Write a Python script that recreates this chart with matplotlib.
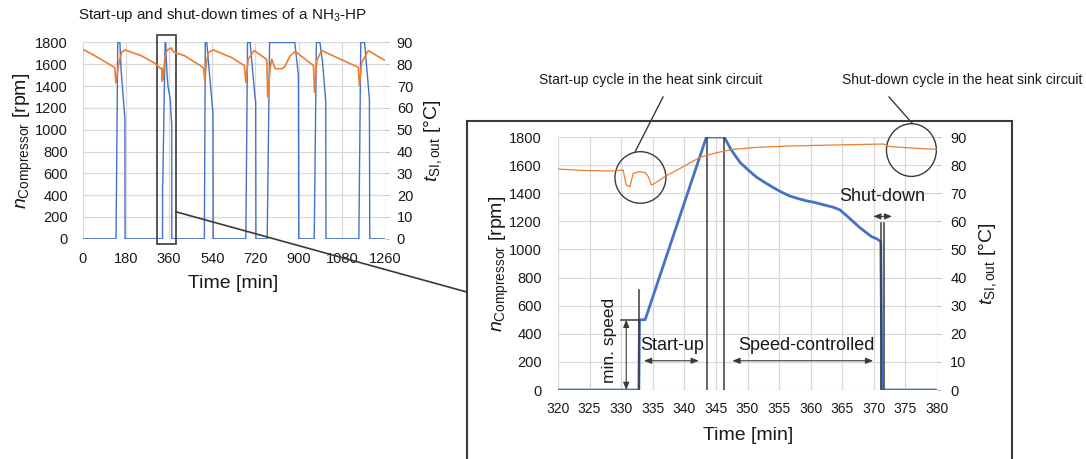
import matplotlib
matplotlib.use('Agg')
import matplotlib.pyplot as plt
from matplotlib.patches import Ellipse, Rectangle, ConnectionPatch
from matplotlib.lines import Line2D

plt.rcParams['font.family'] = ['Liberation Sans', 'DejaVu Sans']
plt.rcParams['mathtext.fontset'] = 'custom'
plt.rcParams['mathtext.rm'] = 'Liberation Sans'
plt.rcParams['mathtext.it'] = 'Liberation Sans:italic'

# ---------------- data ----------------
time_speed = [0, 139, 146, 155, 160, 176, 176.5,
              332.8, 332.9, 333.8, 343.5, 346.3, 347.4, 348.8, 350.0, 351.4, 352.8, 354.1,
              355.5, 356.7, 358.0, 359.4, 360.6, 362.0, 363.6, 364.6, 365.7, 366.8, 367.8,
              368.8, 369.6, 370.5, 371.1, 371.3,
              507, 511, 517, 543, 544,
              680, 687, 698, 718, 721, 722,
              769, 779, 884, 899, 900.5,
              965, 974, 989, 997, 999, 1013, 1014,
              1151, 1159, 1175, 1195, 1196.5, 1260]
speed_rpm = [0, 0, 1800, 1800, 1550, 1100, 0,
             0, 500, 500, 1800, 1800, 1710, 1620, 1570, 1515, 1475, 1440,
             1405, 1380, 1362, 1345, 1335, 1318, 1300, 1282, 1240, 1195, 1155,
             1120, 1092, 1075, 1055, 0,
             0, 1800, 1800, 1150, 0,
             0, 1800, 1800, 1300, 1260, 0,
             0, 1800, 1800, 1500, 0,
             0, 1800, 1800, 1660, 1640, 1260, 0,
             0, 1800, 1800, 1280, 0, 0]

time_temp = [0, 51, 134, 138, 140, 150, 162, 176, 245, 300,
             320, 324, 328.7, 330.3, 330.8, 331.4, 331.9, 333.0, 333.8, 334.3, 334.8, 335.3,
             336.9, 339.8, 342.5, 345.1, 347.7, 351.4, 356.7, 364.6, 371.5, 372.5, 375.2, 379.9,
             425, 503, 509, 515, 523, 544, 621, 674, 680, 690, 715, 767, 771, 781, 788,
             802, 830, 841, 865, 886, 927, 962, 966, 976, 996, 1149, 1153, 1163, 1190,
             1253, 1260]
temp_sink = [86.9, 83.9, 78.5, 71.6, 72.5, 80.0, 85.4, 86.6, 83.9, 80.5,
             78.6, 78.1, 77.9, 78.3, 72.9, 72.3, 77.1, 77.7, 77.3, 75.9, 72.9, 73.5,
             75.9, 79.4, 82.8, 84.4, 85.6, 86.3, 86.8, 87.2, 87.5, 86.6, 86.2, 85.6,
             83.9, 78.5, 72.4, 80.0, 85.4, 86.6, 83.1, 79.4, 71.7, 82.4, 86.3, 82.2, 65.1, 78.0, 82.4,
             78.0, 78.0, 78.7, 84.0, 85.9, 82.4, 79.4, 67.2, 81.8, 86.3, 78.6, 70.2, 80.8, 86.3,
             82.2, 82.0]

overview_xticks = [0, 180, 360, 540, 720, 900, 1080, 1260]
detail_xticks = [320, 325, 330, 335, 340, 345, 350, 355, 360, 365, 370, 375, 380]
rpm_ticks = [0, 200, 400, 600, 800, 1000, 1200, 1400, 1600, 1800]
temp_ticks = [0, 10, 20, 30, 40, 50, 60, 70, 80, 90]

BLUE = '#4472C4'
ORANGE = '#ED7D31'
GRID = '#D9D9D9'
DARK = '#3A3A3A'
TXT = '#1A1A1A'

W, H = 1086, 459
fig = plt.figure(figsize=(W / 100 + 1e-6, H / 100 + 1e-6), dpi=100)


def fx(px):
    return px / W


def fy(py):
    return 1 - py / H


def style_axes(ax, axb, left_pad, bottom_pad, right_pad, xsize=10.5):
    for a in (ax, axb):
        for s in a.spines.values():
            s.set_visible(False)
    ax.grid(True, color=GRID, lw=0.9)
    ax.set_axisbelow(True)
    ax.tick_params(axis='y', length=0, pad=left_pad, labelsize=10.5, labelcolor=TXT)
    ax.tick_params(axis='x', length=0, pad=bottom_pad, labelsize=xsize, labelcolor=TXT)
    axb.tick_params(axis='y', length=3, width=0.8, color='#BFBFBF', direction='out',
                    pad=right_pad, labelsize=10.5, labelcolor=TXT)


# ---------------- overview chart ----------------
ax1 = fig.add_axes([fx(82.7), fy(238.8), fx(385 - 82.7), (238.8 - 42.5) / H])
ax1b = ax1.twinx()
ax1.plot(time_speed, speed_rpm, color=BLUE, lw=1.0)
ax1b.plot(time_temp, temp_sink, color=ORANGE, lw=1.2)
ax1.set_xlim(0, 1260)
ax1.set_ylim(0, 1800)
ax1b.set_ylim(0, 90)
ax1.set_xticks(overview_xticks)
ax1.set_yticks(rpm_ticks)
ax1b.set_yticks(temp_ticks)
style_axes(ax1, ax1b, 10.5, 9.5, 5.5)

fig.text(fx(223), fy(15), 'Start-up and shut-down times of a NH$_3$-HP', fontsize=11,
         ha='center', va='center', color=TXT)
fig.text(fx(23), fy(140.7), r'$n_{\mathrm{Compressor}}$ [rpm]', rotation=90, fontsize=14,
         ha='center', va='center', color=TXT)
fig.text(fx(433), fy(140.7), r'$t_{\mathrm{SI,out}}$ [°C]', rotation=90, fontsize=14,
         ha='center', va='center', color=TXT)
fig.text(fx(233), fy(283), 'Time [min]', fontsize=14, ha='center', va='center', color=TXT)

# selection box and connector
ax1.add_patch(Rectangle((311, -50), 77, 1919, fill=False, ec=DARK, lw=1.2, clip_on=False, zorder=5))
con = ConnectionPatch(xyA=(388, 248), coordsA=ax1.transData,
                      xyB=(fx(466.7), fy(292)), coordsB=fig.transFigure,
                      color=DARK, lw=1.2)
fig.add_artist(con)

# ---------------- detail chart ----------------
# open frame (its bottom edge lies below the picture)
fig.add_artist(Line2D([fx(466.7), fx(466.7), fx(1011.7), fx(1011.7)],
                      [fy(465), fy(121), fy(121), fy(465)],
                      color=DARK, lw=1.5, solid_joinstyle='miter', solid_capstyle='butt'))

ax2 = fig.add_axes([fx(558), fy(390), fx(937 - 558), (390 - 137) / H])
ax2b = ax2.twinx()
ax2b.plot(time_temp, temp_sink, color=ORANGE, lw=0.9, zorder=2)
ax2.plot(time_speed, speed_rpm, color=BLUE, lw=2.0, zorder=3)
ax2.set_xlim(320, 380)
ax2.set_ylim(0, 1800)
ax2b.set_ylim(0, 90)
ax2.set_xticks(detail_xticks)
ax2.set_yticks(rpm_ticks)
ax2b.set_yticks(temp_ticks)
style_axes(ax2, ax2b, 11.5, 8.5, 6.5, xsize=10)

fig.text(fx(499), fy(264), r'$n_{\mathrm{Compressor}}$ [rpm]', rotation=90, fontsize=14,
         ha='center', va='center', color=TXT)
fig.text(fx(988), fy(264), r'$t_{\mathrm{SI,out}}$ [°C]', rotation=90, fontsize=14,
         ha='center', va='center', color=TXT)
fig.text(fx(748), fy(435), 'Time [min]', fontsize=14, ha='center', va='center', color=TXT)

# phase markers
for xv, ytop in [(343.6, 1800), (346.3, 1800), (371.2, 1185), (371.65, 1185), (332.9, 710)]:
    ax2.plot([xv, xv], [0, ytop], color=DARK, lw=1.1, zorder=4)
ax2.plot([329.9, 332.9], [500, 500], color=DARK, lw=1.1, zorder=4)

arrow_kw = dict(arrowstyle='<|-|>,head_length=0.45,head_width=0.18', color=DARK, lw=0.8,
                shrinkA=0, shrinkB=0)
ax2.annotate('', xy=(330.8, 0), xytext=(330.8, 500), arrowprops=arrow_kw)
ax2.annotate('', xy=(333.6, 208), xytext=(342.3, 208), arrowprops=arrow_kw)
ax2.annotate('', xy=(347.6, 208), xytext=(369.9, 208), arrowprops=arrow_kw)
ax2.annotate('', xy=(369.9, 1235), xytext=(372.9, 1235), arrowprops=arrow_kw)

ax2.text(328.2, 350, 'min. speed', rotation=90, fontsize=12.5, ha='center', va='center', color=TXT)
ax2.text(338.1, 320, 'Start-up', fontsize=13, ha='center', va='center', color=TXT)
ax2.text(359.3, 320, 'Speed-controlled', fontsize=13, ha='center', va='center', color=TXT)
ax2.text(371.3, 1376, 'Shut-down', fontsize=13, ha='center', va='center', color=TXT)

# highlight circles
ax2.add_patch(Ellipse((333.05, 1512), 8.07, 367, fill=False, ec=DARK, lw=1.0, clip_on=False, zorder=5))
ax2.add_patch(Ellipse((375.95, 1707), 7.9, 375, fill=False, ec=DARK, lw=1.0, clip_on=False, zorder=5))

fig.add_artist(Line2D([fx(635), fx(663)], [fy(152), fy(97)], color=DARK, lw=1.0))
fig.add_artist(Line2D([fx(912), fx(889)], [fy(123), fy(97)], color=DARK, lw=1.0))
fig.text(fx(651), fy(80), 'Start-up cycle in the heat sink circuit', fontsize=10,
         ha='center', va='center', color=TXT)
fig.text(fx(1082), fy(80), 'Shut-down cycle in the heat sink circuit', fontsize=10,
         ha='right', va='center', color=TXT)

fig.savefig('out.png', dpi=100, facecolor='white')
